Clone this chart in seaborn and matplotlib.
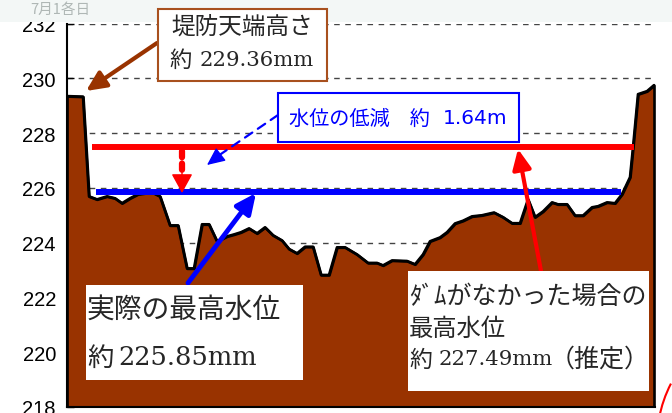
import matplotlib
matplotlib.use("Agg")
import matplotlib.pyplot as plt
import seaborn as sns
import pandas as pd
from matplotlib.patches import Rectangle, Arc

# 河道横断（距離とその地点の地盤高）
distance = [0, 16, 22, 30, 40, 48, 55, 63, 71, 85, 93, 103, 111, 120, 127, 135,
            142, 150, 160, 167, 174, 182, 190, 198, 206, 215, 222, 230, 238, 246,
            254, 262, 270, 278, 290, 301, 310, 316, 325, 340, 348, 356, 363, 373,
            380, 388, 396, 405, 415, 427, 436, 445, 453, 461, 468, 476, 485, 491,
            500, 508, 516, 525, 531, 540, 548, 555, 563, 566, 571, 580, 587]
ground = [229.35, 229.33, 225.69, 225.58, 225.69, 225.62, 225.44, 225.62, 225.77,
          225.84, 225.69, 224.63, 224.63, 223.06, 223.06, 224.67, 224.67, 224.05,
          224.23, 224.30, 224.38, 224.52, 224.34, 224.56, 224.27, 224.08, 223.77,
          223.61, 223.85, 223.85, 222.82, 222.82, 223.83, 223.83, 223.57, 223.26,
          223.26, 223.17, 223.35, 223.33, 223.21, 223.57, 224.05, 224.19, 224.38,
          224.70, 224.80, 224.96, 225.00, 225.10, 224.93, 224.71, 224.71, 225.58,
          224.93, 225.14, 225.47, 225.40, 225.40, 224.99, 224.99, 225.29, 225.33,
          225.47, 225.44, 225.77, 226.39, 227.48, 229.42, 229.53, 229.75]

# 水位
level_actual = 225.85      # 実際の最高水位
level_no_dam = 227.49      # ダムがなかった場合（推定）
actual_span = [29, 554]
no_dam_span = [25, 567]

y_ticks = [218, 220, 222, 224, 226, 228, 230, 232]

df = pd.DataFrame({"distance": distance, "ground": ground})

W, H = 672, 414


def P(px, py):
    """ピクセル位置 -> figure fraction"""
    return (px / W, 1 - py / H)


def arrow(ax, start, end, color, lw, hl=0.6, hw=0.28, ls="-"):
    ax.annotate("", xy=P(*end), xytext=P(*start),
                xycoords="figure fraction", textcoords="figure fraction",
                arrowprops=dict(arrowstyle=f"-|>,head_length={hl},head_width={hw}",
                                color=color, lw=lw, ls=ls, mutation_scale=20,
                                shrinkA=0, shrinkB=0), zorder=6)


def line(ax, start, end, color, lw, ls="-"):
    ax.annotate("", xy=P(*end), xytext=P(*start),
                xycoords="figure fraction", textcoords="figure fraction",
                arrowprops=dict(arrowstyle="-", color=color, lw=lw, ls=ls,
                                shrinkA=0, shrinkB=0), zorder=6)


sns.set_theme(style="white")
plt.rcParams['font.family'] = ['Liberation Sans', 'Noto Sans CJK JP', 'DejaVu Sans']

fig = plt.figure(figsize=(W / 100, H / 100), dpi=100)
ax = fig.add_axes([67 / W, 1 - 408 / H, (655 - 67) / W, (408 - 24.5) / H])

# 地盤
ax.fill_between(df["distance"], df["ground"], 218, facecolor="#993300",
                edgecolor="black", linewidth=1.9, zorder=2)
sns.lineplot(data=df, x="distance", y="ground", color="black", lw=1.9,
             ax=ax, zorder=3)

# 水位線
ax.hlines(level_no_dam, *no_dam_span, color="#ff0000", lw=4.3, zorder=4)
ax.hlines(level_actual, *actual_span, color="#0000ff", lw=4.3, zorder=4)

ax.set_xlim(0, 588)
ax.set_ylim(218, 232)
ax.set_yticks(y_ticks)
ax.set_xticks([])
ax.set_xlabel("")
ax.set_ylabel("")
ax.yaxis.grid(True, linestyle=(0, (4, 4)), color="#444444", lw=1, zorder=1)
ax.set_axisbelow(True)
ax.tick_params(axis="y", direction="in", length=5, width=1, left=True,
               labelsize=14.5, pad=8, colors="black")
for s in ["top", "right"]:
    ax.spines[s].set_visible(False)
for s in ["left", "bottom"]:
    ax.spines[s].set_color("black")
    ax.spines[s].set_linewidth(1.5)

gothic = ['Noto Sans CJK JP']
serif = ['DejaVu Serif']

# 上部の帯
fig.add_artist(Rectangle((0, 1 - 23 / H), 1, 23 / H, transform=fig.transFigure,
                         facecolor="#f3f7f6", edgecolor="none", zorder=5))
fig.text(*P(30, 10), "7月1各日", ha="left", va="center", fontsize=10.5,
         color="#a3acaa", family=gothic, zorder=5.5, alpha=0.85)

# 堤防天端高さ
fig.add_artist(Rectangle(P(158, 82), 169 / W, 72 / H, transform=fig.transFigure,
                         facecolor="white", edgecolor="#a8501e", lw=1.5, zorder=6))
fig.text(*P(242, 27), "堤防天端高さ", ha="center", va="center", fontsize=17,
         family=gothic, zorder=7)
fig.text(*P(169, 60), "約", ha="left", va="center", fontsize=16,
         family=gothic, zorder=7)
fig.text(*P(200, 60), "229.36mm", ha="left", va="center", fontsize=15.3,
         family=serif, zorder=7)
arrow(ax, (157, 44), (86, 92), "#993300", 3)

# 水位の低減
fig.add_artist(Rectangle(P(278, 143), 241 / W, 49 / H, transform=fig.transFigure,
                         facecolor="white", edgecolor="#0000ff", lw=1.5, zorder=6))
fig.text(*P(289, 119), "水位の低減　約", ha="left", va="center", fontsize=14.5,
         color="#0000ff", family=gothic, zorder=7)
fig.text(*P(443, 119), "1.64m", ha="left", va="center", fontsize=14.5,
         color="#0000ff", family=['DejaVu Sans'], zorder=7)
line(ax, (278, 116), (218, 157), "#0000ff", 1.6, ls=(0, (4, 3)))
arrow(ax, (220, 156), (207, 166), "#0000ff", 1, hl=0.55, hw=0.25)

# 赤点線矢印（低減量）
line(ax, (182, 152), (182, 176), "#ff0000", 4.5, ls=(0, (1, 1)))
arrow(ax, (182, 170), (182, 194), "#ff0000", 1, hl=0.6, hw=0.33)

# 実際の最高水位
arrow(ax, (188, 284), (256, 194), "#0000ff", 3.5)
fig.add_artist(Rectangle(P(86, 381), 217 / W, 95 / H, transform=fig.transFigure,
                         facecolor="white", edgecolor="none", zorder=6))
fig.text(*P(87, 310), "実際の最高水位", ha="left", va="center", fontsize=20,
         family=gothic, zorder=7)
fig.text(*P(87, 358), "約", ha="left", va="center", fontsize=19,
         family=gothic, zorder=7)
fig.text(*P(118, 358), "225.85mm", ha="left", va="center", fontsize=18.5,
         family=serif, zorder=7)

# ダムがなかった場合
arrow(ax, (541, 272), (518, 150), "#ff0000", 3)
fig.add_artist(Rectangle(P(408, 392), 241 / W, 120 / H, transform=fig.transFigure,
                         facecolor="white", edgecolor="none", zorder=6))
fig.text(*P(409, 297), "ﾀﾞﾑがなかった場合の", ha="left", va="center", fontsize=18,
         family=gothic, zorder=7)
fig.text(*P(409, 329), "最高水位", ha="left", va="center", fontsize=17.5,
         family=gothic, zorder=7)
fig.text(*P(409, 360), "約", ha="left", va="center", fontsize=16.5,
         family=gothic, zorder=7)
fig.text(*P(439, 360), "227.49mm", ha="left", va="center", fontsize=15.3,
         family=serif, zorder=7)
fig.text(*P(550, 360), "（推定）", ha="left", va="center", fontsize=18,
         family=gothic, zorder=7)

# 右下の赤い円弧
fig.add_artist(Arc(P(782, 442), 250 / W, 250 / H, theta1=140, theta2=190,
                   transform=fig.transFigure, color="#ff0000", lw=1.5, zorder=11))

fig.savefig("out.png", dpi=100)
